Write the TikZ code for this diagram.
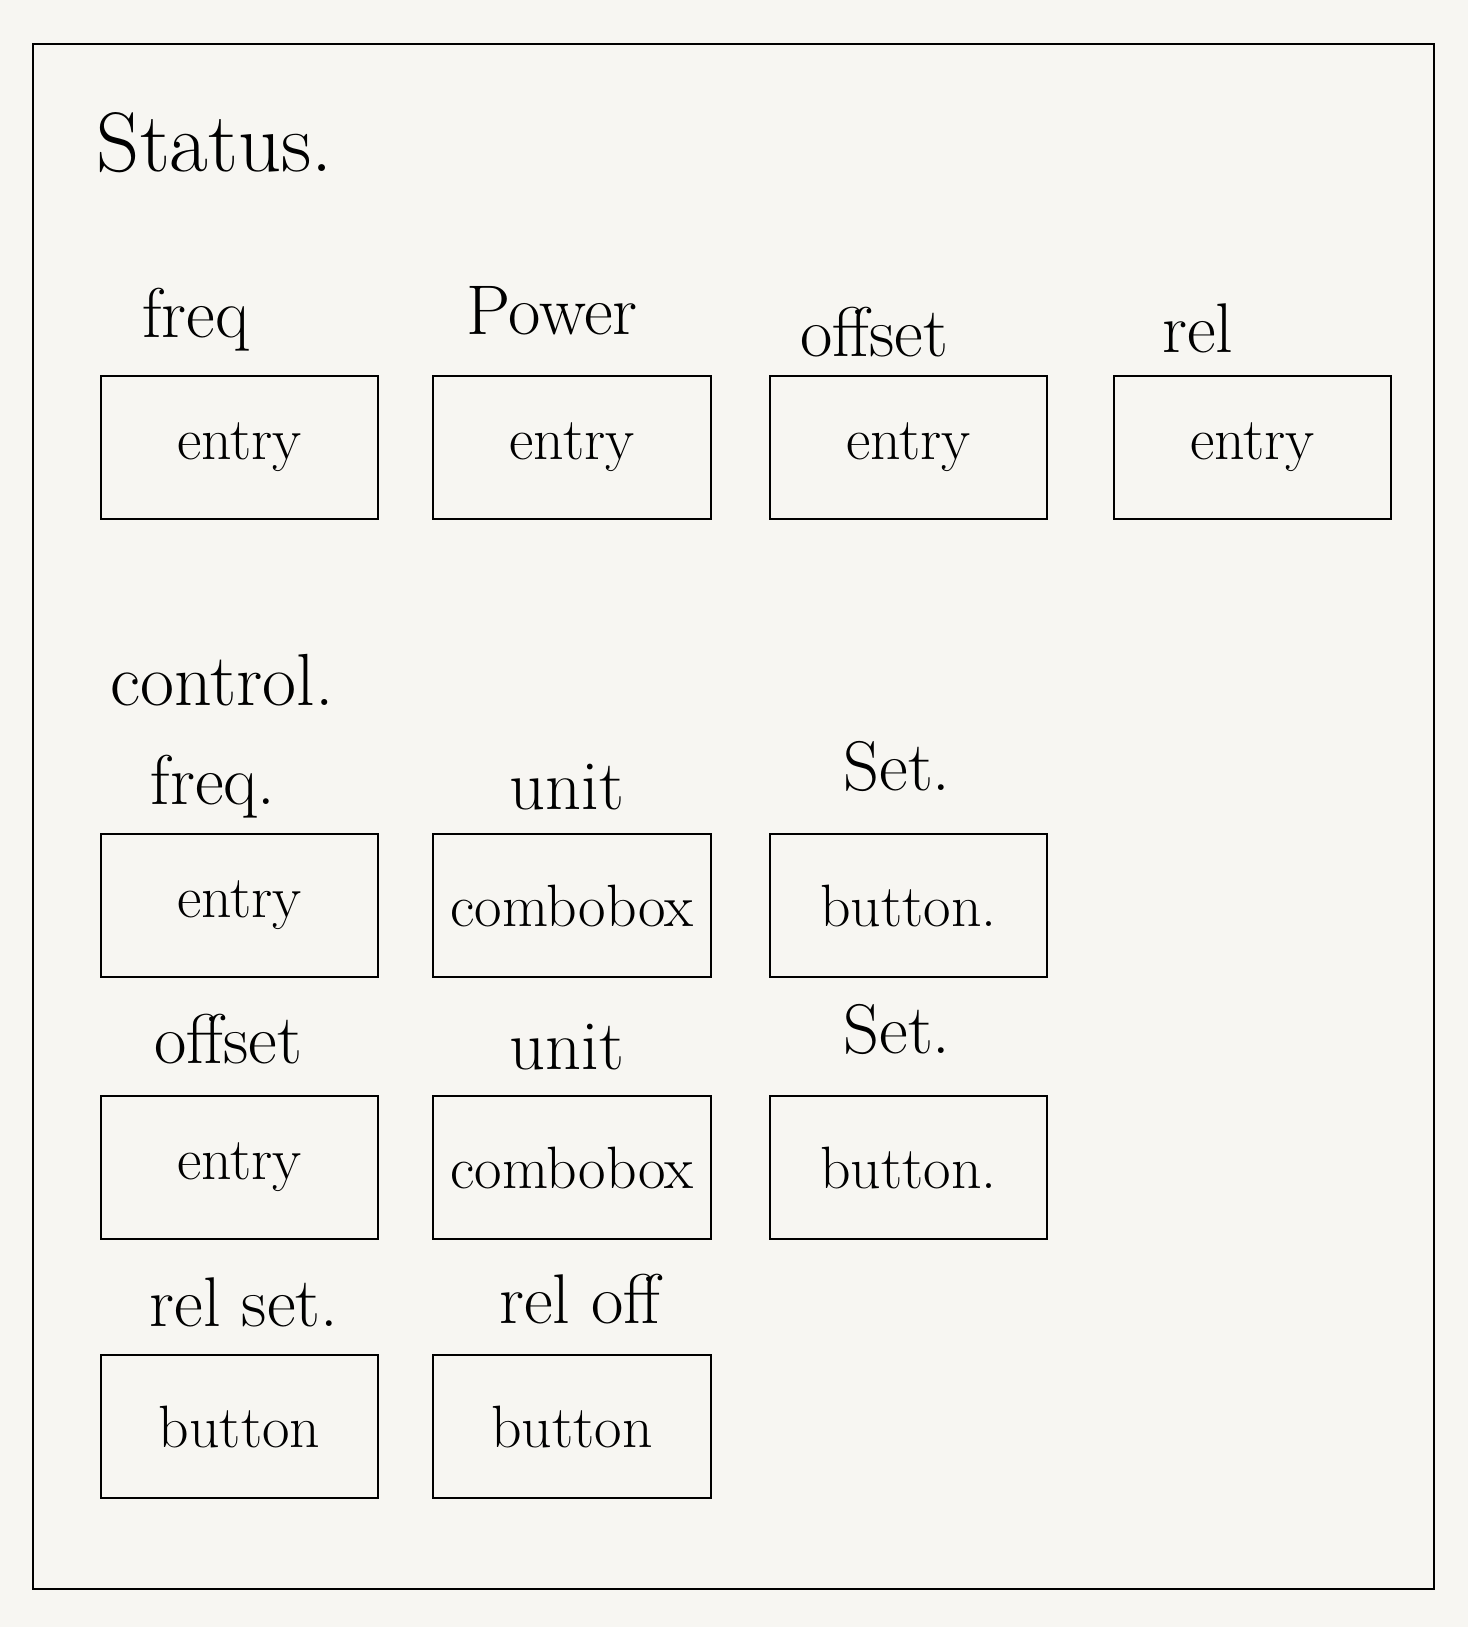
\documentclass[tikz,border=0pt]{standalone}
\usepackage{fontspec}
\definecolor{paper}{HTML}{F7F6F2}

\begin{document}
\begin{tikzpicture}[x=0.01cm, y=-0.01cm, line width=0.6pt,
    box/.style={draw, minimum width=2.77cm, minimum height=1.43cm, inner sep=0pt, font=\fontsize{17}{20}\selectfont},
    fieldname/.style={anchor=base, font=\fontsize{20}{24}\selectfont},
    heading/.style={anchor=base, font=\fontsize{24}{28}\selectfont}]

    \fill[paper] (0,0) rectangle (1468,1627);
    \draw (33,44) rectangle (1434,1589);

    % status part
    \node[heading] (status) at (215,171) {Status.};
    \node[fieldname] (freqname) at (196,337) {freq};
    \node[fieldname] (powername) at (552,334) {Power};
    \node[fieldname] (offsetname) at (874,356) {offset};
    \node[fieldname] (relname) at (1198,352) {rel};

    \node[box] (freqentry) at (239.5,447.5) {entry};
    \node[box] (powerentry) at (572,447.5) {entry};
    \node[box] (offsetentry) at (908.5,447.5) {entry};
    \node[box] (relentry) at (1252.5,447.5) {entry};

    % control part
    \node[heading, font=\fontsize{21}{25}\selectfont] (control) at (222,705) {control.};
    \node[fieldname] (setfreqname) at (213,804) {freq.};
    \node[fieldname] (frequnitname) at (567,809) {unit};
    \node[fieldname] (freqsetname) at (897,790) {Set.};

    \node[box] (setfreqentry) at (239.5,905.5) {entry};
    \node[box] (frequnitbox) at (572,905.5) {combobox};
    \node[box] (freqsetbutton) at (908.5,905.5) {button.};

    \node[fieldname] (setoffsetname) at (228,1063) {offset};
    \node[fieldname] (offsetunitname) at (567,1069) {unit};
    \node[fieldname] (offsetsetname) at (897,1053) {Set.};

    \node[box] (setoffsetentry) at (239.5,1167.5) {entry};
    \node[box] (offsetunitbox) at (572,1167.5) {combobox};
    \node[box] (offsetsetbutton) at (908.5,1167.5) {button.};

    \node[fieldname] (relsetname) at (244,1326) {rel set.};
    \node[fieldname] (reloffname) at (580,1323) {rel off};

    \node[box] (relsetbutton) at (239.5,1426.5) {button};
    \node[box] (reloffbutton) at (572,1426.5) {button};
\end{tikzpicture}
\end{document}
